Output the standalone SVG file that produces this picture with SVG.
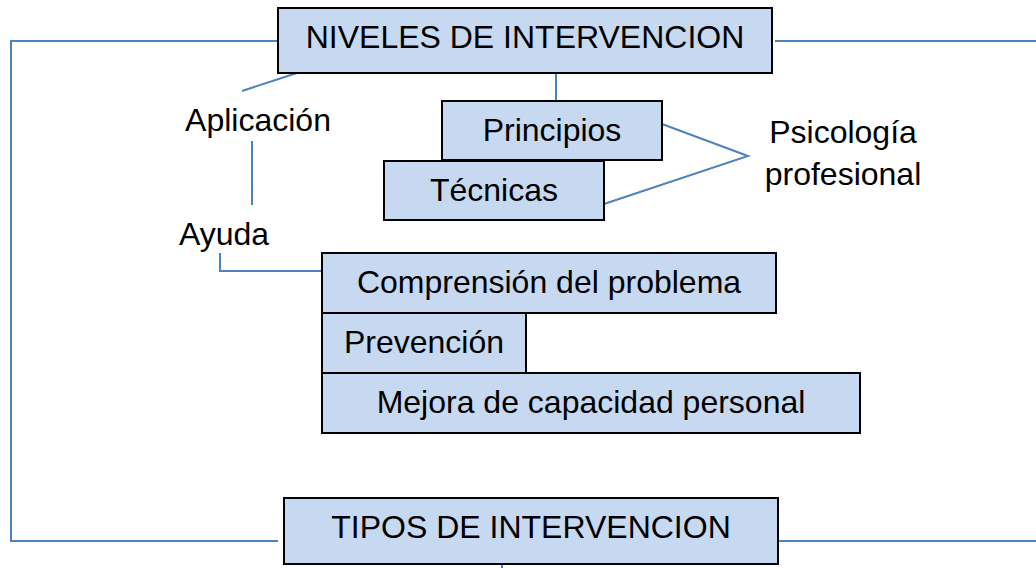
<svg xmlns="http://www.w3.org/2000/svg" width="1036" height="568" viewBox="0 0 1036 568">
<style>
.box{fill:#C6D9F1;stroke:#000;stroke-width:2}
.t{font-family:"Liberation Sans",Arial,sans-serif;font-size:32px;fill:#000;text-anchor:middle}
.c{fill:none;stroke:#4F81BD;stroke-width:2}
</style>
<rect width="1036" height="568" fill="#fff"/>
<g id="connectors">
<polyline class="c" points="278,41 11,41 11,541 278,541"/>
<line class="c" x1="775" y1="41" x2="1036" y2="41"/>
<line class="c" x1="778" y1="541" x2="1036" y2="541"/>
<line class="c" x1="297" y1="73" x2="242" y2="91"/>
<line class="c" x1="556" y1="73" x2="556" y2="101"/>
<polyline class="c" points="662,124 748,156 604,204"/>
<line class="c" x1="252" y1="141" x2="252" y2="205"/>
<polyline class="c" points="220,253 220,271 322,271"/>
<line class="c" x1="502" y1="562" x2="502" y2="568"/>
</g>
<g id="niveles"><rect class="box" x="278" y="8" width="494" height="65"/><text class="t" x="525" y="48">NIVELES DE INTERVENCION</text></g>
<g id="principios"><rect class="box" x="442" y="101" width="220" height="59"/><text class="t" x="552" y="141">Principios</text></g>
<g id="tecnicas"><rect class="box" x="384" y="161" width="220" height="59"/><text class="t" x="494" y="201">Técnicas</text></g>
<g id="psicologia"><text class="t" x="843" y="143">Psicología</text><text class="t" x="843" y="185">profesional</text></g>
<g id="aplicacion"><text class="t" x="258" y="131">Aplicación</text></g>
<g id="ayuda"><text class="t" x="224" y="245">Ayuda</text></g>
<g id="comprension"><rect class="box" x="322" y="253" width="454" height="60"/><text class="t" x="549" y="293">Comprensión del problema</text></g>
<g id="prevencion"><rect class="box" x="322" y="313" width="204" height="60"/><text class="t" x="424" y="353">Prevención</text></g>
<g id="mejora"><rect class="box" x="322" y="373" width="538" height="60"/><text class="t" x="591" y="413">Mejora de capacidad personal</text></g>
<g id="tipos"><rect class="box" x="284" y="498" width="494" height="66"/><text class="t" x="531" y="538">TIPOS DE INTERVENCION</text></g>
</svg>
